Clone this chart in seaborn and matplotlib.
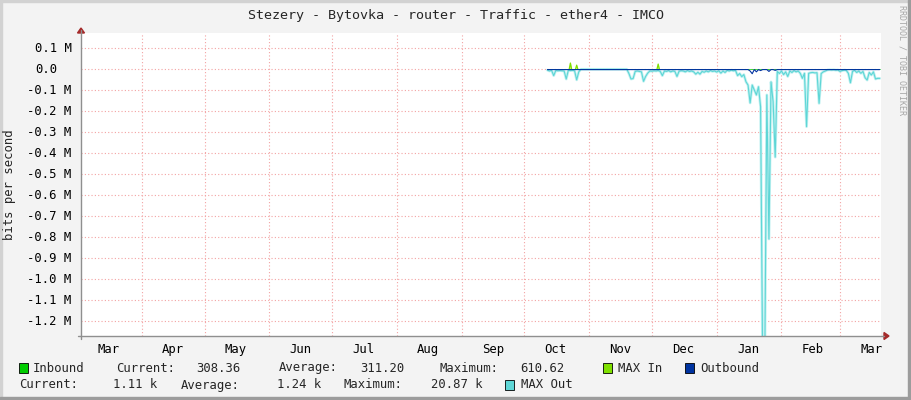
import matplotlib
matplotlib.use("Agg")
import matplotlib.pyplot as plt
from matplotlib.patches import Rectangle, Polygon
import numpy as np
import pandas as pd
import seaborn as sns

# MAX Out, one sample per day starting 2021-10-12, kbit/s (drawn below zero)
max_out_start = "2021-10-12"
max_out_k = [
    4, 8, 5, 30, 6, 7, 6, 7, 8, 46, 5, 6, 5, 7, 50, 12,
    0, 0, 0, 0, 0, 0, 0, 0, 0, 0, 0, 0, 0, 0, 0, 0, 0, 0, 0, 0, 0, 0, 0,
    20, 46, 44, 10, 8, 10, 12, 57, 34, 18,
    8, 9, 7, 8, 6, 10, 30, 8, 10, 6,
    12, 8, 10, 34, 9, 7, 8, 12, 6, 10,
    8, 12, 23, 14, 23, 10, 14, 8, 12, 6,
    10, 8, 13, 7, 18, 8, 15, 5, 8, 4,
    7, 5, 30, 20, 35, 25, 59, 75, 160, 75,
    98, 122, 83, 178, 1400, 1400, 122, 808, 60, 154,
    418, 10, 20, 8, 25, 12, 34, 8, 15, 6,
    12, 8, 19, 43, 19, 273, 19, 16, 15, 17,
    16, 162, 20, 12, 8, 3, 2, 3, 2, 4,
    3, 10, 6, 4, 5, 19, 64, 10, 5, 15,
    8, 19, 10, 40, 51, 15, 27, 12, 46, 43,
    43,
]

# periods with traffic data (the gap in between only has MAX Out at zero)
active_periods = [("2021-10-12", "2021-10-27"), ("2021-11-19", "2022-03-20")]

# MAX In peaks, kbit/s
max_in_dates = ["2021-10-23", "2021-10-26", "2021-12-04"]
max_in_k = [30, 20, 25]

# Outbound: legend average plus the visible peaks, kbit/s
outbound_avg_k = 1.24
outbound_dates = ["2022-01-17", "2022-01-18", "2022-01-20", "2022-01-22", "2022-01-26", "2022-01-29"]
outbound_k = [8, 21, 12, 6, 10, 5]

# Inbound: legend average, kbit/s
inbound_avg_k = 0.31

y_ticks = [0.1, 0.0, -0.1, -0.2, -0.3, -0.4, -0.5, -0.6, -0.7, -0.8, -0.9, -1.0, -1.1, -1.2]
month_starts = pd.date_range("2021-04-01", "2022-03-01", freq="MS")
month_labels = ["Mar", "Apr", "May", "Jun", "Jul", "Aug", "Sep", "Oct", "Nov", "Dec", "Jan", "Feb", "Mar"]
x_start, x_end = pd.Timestamp("2021-03-02 19:30"), pd.Timestamp("2022-03-20 15:00")
y_min, y_max = -1.270e6, 0.173e6

title = "Stezery - Bytovka - router - Traffic - ether4 - IMCO"
c_in, c_maxin, c_out, c_maxout = "#00cc00", "#7fe000", "#0033a0", "#5ed6d6"

# build the series
days = pd.date_range(max_out_start, periods=len(max_out_k), freq="D")
df = pd.DataFrame({"time": days, "max_out": -np.array(max_out_k, float) * 1000})
active = np.zeros(len(days), bool)
for a, b in active_periods:
    active |= (days >= a) & (days <= b)
mi = pd.Series(0.0, index=days)
mi[pd.to_datetime(max_in_dates)] = max_in_k
ob = pd.Series(outbound_avg_k, index=days)
ob[pd.to_datetime(outbound_dates)] = outbound_k
df["max_in"] = np.where(active, mi.values * 1000, np.nan)
df["outbound"] = np.where(active, -ob.values * 1000, np.nan)
df["inbound"] = np.where(active, inbound_avg_k * 1000, np.nan)

sns.set_theme(style="white")
plt.rcParams["font.family"] = ["DejaVu Sans Mono"]
fs = 8.8
adv = 0.602 * fs * 100 / 72

W, H = 911, 400
fig = plt.figure(figsize=(W / 100, H / 100), dpi=100, facecolor="#f3f3f3")


def fx(px):
    return px / W


def fy(py):
    return 1 - py / H


ax = fig.add_axes([fx(81), fy(336), fx(800), 303 / H])
ax.set_facecolor("white")

# MAX Out: soft halo + line
sns.lineplot(data=df, x="time", y="max_out", ax=ax, color="#c2f1f1", lw=2.0, estimator=None)
sns.lineplot(data=df, x="time", y="max_out", ax=ax, color=c_maxout, lw=0.8, estimator=None)
# Inbound + MAX In
sns.lineplot(data=df, x="time", y="inbound", ax=ax, color=c_in, lw=0.5, estimator=None)
for t, v in zip(df["time"], df["max_in"]):
    if v > 0:
        xs = [t - pd.Timedelta("14h"), t, t + pd.Timedelta("14h")]
        ax.fill_between(xs, 0, [0, v, 0], color="#c8f383", lw=0)
        ax.plot(xs, [0, v, 0], color=c_maxin, lw=0.9)
# Outbound on top
sns.lineplot(data=df, x="time", y="outbound", ax=ax, color=c_out, lw=0.8, estimator=None, zorder=3)

ax.set_xlim(x_start, x_end)
ax.set_ylim(y_min, y_max)
ax.set_xlabel("")
ax.set_ylabel("")
for s in ax.spines.values():
    s.set_visible(False)

# grid
grid_kw = dict(color="#f3a3a3", lw=0.8, ls=(0, (1, 2)), zorder=0.5)
for m in month_starts:
    ax.axvline(m, **grid_kw)
for v in y_ticks:
    ax.axhline(v * 1e6, **grid_kw)
ax.set_yticks([])

# x labels at mid-month
mid = [month_starts[0] - pd.Timedelta(days=16)] + [m + pd.Timedelta(days=15) for m in month_starts]
ax.set_xticks(mid)
ax.set_xticklabels(month_labels, fontsize=fs, color="black")
ax.tick_params(axis="x", length=0, pad=5)

# y labels, right-aligned like rrdtool
for v in y_ticks:
    lbl = "0.0" if v == 0 else f"{v:.1f} M"
    off = 9.3 + (2 * adv if v == 0 else 0)
    ax.annotate(lbl, xy=(0, v * 1e6), xycoords=("axes fraction", "data"), xytext=(-off, 0),
                textcoords="offset pixels", ha="right", va="center", fontsize=fs, color="black")

# axes lines with arrows
axis_c, arrow_c = "#8f8f8f", "#a52a2a"
fig.add_artist(plt.Line2D([fx(78), fx(884)], [fy(336), fy(336)], color=axis_c, lw=1))
fig.add_artist(plt.Line2D([fx(81), fx(81)], [fy(339), fy(30)], color=axis_c, lw=1))
fig.add_artist(Polygon([[fx(884), fy(332.5)], [fx(889), fy(336)], [fx(884), fy(339.5)]],
                       closed=True, color=arrow_c, transform=fig.transFigure))
fig.add_artist(Polygon([[fx(77.5), fy(33)], [fx(81), fy(28)], [fx(84.5), fy(33)]],
                       closed=True, color=arrow_c, transform=fig.transFigure))

# texts
fig.text(0.5, fy(15), title, ha="center", va="center", fontsize=9.6)
fig.text(fx(10), fy(185), "bits per second", rotation=90, ha="center", va="center", fontsize=fs)
fig.text(fx(902), fy(60), "RRDTOOL / TOBI OETIKER", rotation=270, ha="center", va="center",
         fontsize=6, color="#a6a6a6")

# legend
def box(px, py, color):
    fig.add_artist(Rectangle((fx(px), fy(py + 5)), 9 / W, 10 / H, facecolor=color,
                             edgecolor="black", lw=0.6, transform=fig.transFigure))


row1, row2 = 368, 385
legend_row1 = [(33, "Inbound"), (116, "Current:"), (196, "308.36"), (279, "Average:"),
               (360, "311.20"), (440, "Maximum:"), (520, "610.62"), (618, "MAX In"), (700, "Outbound")]
legend_row2 = [(19, "Current:"), (113, "1.11 k"), (181, "Average:"), (277, "1.24 k"),
               (343, "Maximum:"), (431, "20.87 k"), (521, "MAX Out")]
box(19, row1, c_in)
box(603, row1, c_maxin)
box(685, row1, c_out)
box(505, row2, c_maxout)
for px, t in legend_row1:
    fig.text(fx(px), fy(row1), t, ha="left", va="center", fontsize=fs)
for px, t in legend_row2:
    fig.text(fx(px), fy(row2), t, ha="left", va="center", fontsize=fs)

# rrdtool-style frame
fig.add_artist(Rectangle((0, fy(2)), 1, 2 / H, color="#d2d2d2", transform=fig.transFigure))
fig.add_artist(Rectangle((0, 0), 2 / W, 1, color="#d2d2d2", transform=fig.transFigure))
fig.add_artist(Rectangle((fx(908), 0), 3 / W, 1, color="#9c9c9c", transform=fig.transFigure))
fig.add_artist(Rectangle((0, 0), 1, 3 / H, color="#9c9c9c", transform=fig.transFigure))

fig.savefig("out.png", dpi=100, facecolor=fig.get_facecolor())
